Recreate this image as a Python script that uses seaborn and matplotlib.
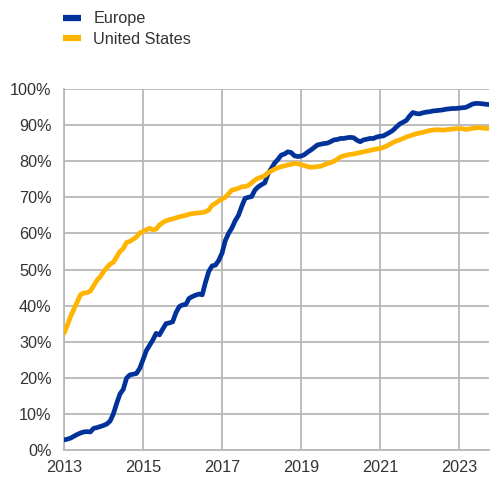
import numpy as np
import pandas as pd
import matplotlib
matplotlib.use("Agg")
import matplotlib.pyplot as plt
import seaborn as sns
from matplotlib.lines import Line2D
from matplotlib.ticker import FuncFormatter

# Monthly share (%), January 2013 to October 2023
start_year = 2013
europe = [
    2.8, 3.0, 3.3, 3.8, 4.3, 4.7, 5.0, 5.1, 5.0, 6.0, 6.2, 6.5,
    6.8, 7.2, 8.0, 10.0, 12.9, 15.5, 16.8, 19.9, 20.8, 21.0, 21.2, 22.6,
    25.0, 27.5, 29.0, 30.5, 32.3, 31.9, 33.5, 35.0, 35.2, 35.5, 38.0, 39.7,
    40.2, 40.3, 42.0, 42.5, 42.9, 43.2, 43.0, 46.5, 49.5, 51.0, 51.2, 52.5,
    54.5, 58.0, 60.0, 61.5, 63.5, 65.0, 67.5, 69.7, 70.0, 70.2, 72.0, 72.9,
    73.5, 74.0, 76.5, 78.0, 79.5, 80.5, 81.7, 82.0, 82.6, 82.4, 81.5, 81.3,
    81.4, 81.8, 82.5, 83.1, 83.8, 84.5, 84.7, 84.9, 85.0, 85.4, 85.9, 86.0,
    86.3, 86.3, 86.5, 86.6, 86.5, 85.8, 85.4, 85.9, 86.1, 86.3, 86.3, 86.7,
    86.9, 87.0, 87.5, 88.0, 88.6, 89.5, 90.3, 90.8, 91.3, 92.5, 93.5, 93.2,
    93.1, 93.4, 93.6, 93.7, 93.9, 94.0, 94.1, 94.2, 94.4, 94.5, 94.6, 94.6,
    94.7, 94.8, 94.9, 95.3, 95.8, 96.0, 96.0, 95.9, 95.8, 95.7,
]
united_states = [
    32.4, 34.5, 37.0, 39.0, 41.0, 43.0, 43.5, 43.6, 44.0, 45.5, 47.0, 48.0,
    49.4, 50.5, 51.5, 52.0, 53.5, 55.0, 55.8, 57.5, 57.8, 58.4, 59.0, 60.1,
    60.5, 61.0, 61.4, 61.0, 61.2, 62.3, 63.0, 63.5, 63.8, 64.0, 64.3, 64.6,
    64.8, 65.0, 65.3, 65.5, 65.6, 65.7, 65.8, 66.0, 66.5, 67.8, 68.3, 69.0,
    69.5, 70.0, 71.0, 72.0, 72.2, 72.5, 72.9, 73.0, 73.3, 74.0, 74.8, 75.3,
    75.6, 76.0, 76.8, 77.3, 77.8, 78.2, 78.5, 78.7, 79.0, 79.1, 79.4, 79.3,
    79.0, 78.8, 78.5, 78.3, 78.4, 78.5, 78.6, 79.0, 79.3, 79.6, 80.0, 80.5,
    81.2, 81.5, 81.7, 81.9, 82.0, 82.2, 82.4, 82.6, 82.8, 83.0, 83.2, 83.4,
    83.5, 83.8, 84.2, 84.7, 85.2, 85.6, 85.9, 86.3, 86.7, 87.0, 87.3, 87.6,
    87.8, 88.0, 88.2, 88.5, 88.6, 88.7, 88.7, 88.6, 88.7, 88.8, 88.9, 89.0,
    89.1, 89.0, 88.8, 88.9, 89.1, 89.2, 89.3, 89.2, 89.1, 89.1,
]
series_names = ["Europe", "United States"]
colors = ["#003299", "#FFB400"]
x_ticks = [2013, 2015, 2017, 2019, 2021, 2023]
y_ticks = [0, 10, 20, 30, 40, 50, 60, 70, 80, 90, 100]

t = start_year + np.arange(len(europe)) / 12.0
df = pd.DataFrame({
    "date": np.concatenate([t, t]),
    "share": europe + united_states,
    "region": [series_names[0]] * len(europe) + [series_names[1]] * len(united_states),
})

sns.set_theme(style="white")
plt.rcParams["font.family"] = ["Liberation Sans", "DejaVu Sans"]

fig = plt.figure(figsize=(4.90, 4.79), dpi=100)
ax = fig.add_axes([64 / 490, 29 / 479, 425 / 490, 361 / 479])

sns.lineplot(data=df, x="date", y="share", hue="region",
             palette=dict(zip(series_names, colors)), linewidth=3.4,
             legend=False, ax=ax, zorder=3)

grid_c = "#b8b8b8"
ax.set_xlim(2013, 2023.76)
ax.set_ylim(0, 100)
ax.set_xticks(x_ticks)
ax.set_yticks(y_ticks)
ax.yaxis.set_major_formatter(FuncFormatter(lambda v, p: f"{v:.0f}%"))
ax.grid(True, color=grid_c, linewidth=1.3)
ax.set_axisbelow(True)
for side in ["top", "right"]:
    ax.spines[side].set_visible(False)
for side in ["left", "bottom"]:
    ax.spines[side].set_color(grid_c)
    ax.spines[side].set_linewidth(1.3)
ax.tick_params(axis="both", length=0, labelsize=11.7, colors="#333333")
ax.tick_params(axis="y", pad=9)
ax.tick_params(axis="x", pad=7)
ax.set_xlabel("")
ax.set_ylabel("")

handles = [Line2D([0], [0], color=c, linewidth=4.5, solid_capstyle="butt") for c in colors]
fig.legend(handles, series_names, loc="upper left", bbox_to_anchor=(52 / 490, 1.0),
           frameon=False, fontsize=11.7, handlelength=1.1, handletextpad=0.75,
           labelspacing=0.35, borderaxespad=0.3, labelcolor="#333333")

fig.savefig("out.png", dpi=100)
